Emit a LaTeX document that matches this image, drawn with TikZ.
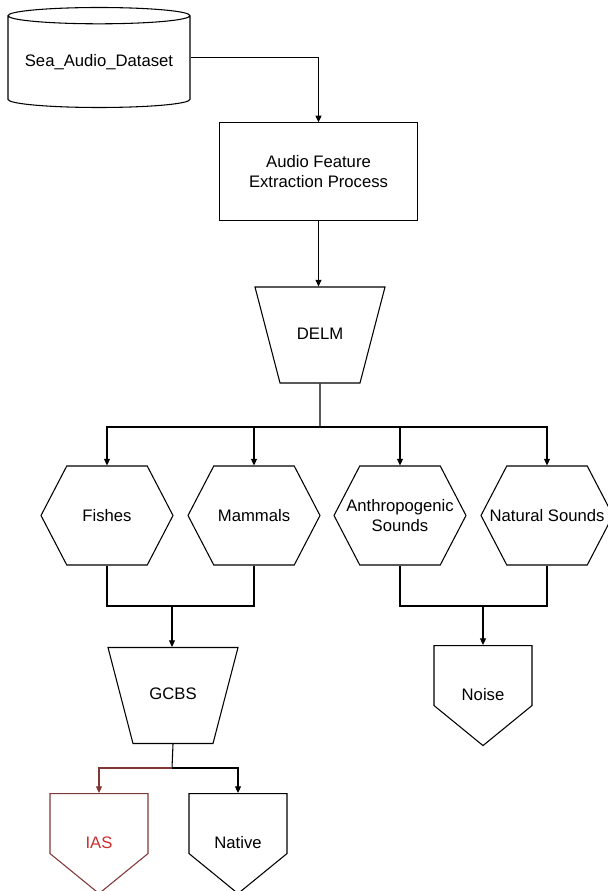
\documentclass[tikz,border=0pt]{standalone}
\usepackage{fontspec}
\setmainfont{Liberation Sans}
\usetikzlibrary{shapes.geometric,shapes.symbols,arrows.meta}
\definecolor{iasline}{RGB}{130,55,55}
\definecolor{iastext}{RGB}{205,45,45}
\newcommand{\hexline}[1]{\makebox[0pt]{#1}}
\tikzset{
  arr/.style={-{Triangle[length=5pt,width=4.5pt]}},
  dbase/.style={cylinder,shape border rotate=90,aspect=0.11,draw,
    minimum width=136.5pt,minimum height=75pt,inner sep=0pt,
    anchor=shape center},
  procbox/.style={rectangle,draw,minimum width=148pt,minimum height=73pt,
    align=center},
  classif/.style={trapezium,shape border rotate=180,
    trapezium left angle=75.4,trapezium right angle=75.4,draw,
    text width=50pt,align=center,text height=8pt,text depth=2pt,
    inner xsep=5pt,inner ysep=31pt},
  hexa/.style={signal,signal to=east and west,signal pointer angle=125,
    draw,minimum width=99pt,minimum height=74.25pt,inner sep=0pt,align=center},
  outbox/.style={signal,signal to=south,signal from=nowhere,
    signal pointer angle=101.5,draw,minimum width=73.5pt,
    minimum height=0pt,anchor=north,inner ysep=0.5pt,
    text height=40.75pt,text depth=3.25pt}
}
\begin{document}
\begin{tikzpicture}[x=0.75pt,y=-0.75pt,line width=0.8pt,
  font=\fontsize{12.5}{15}\selectfont]
\useasboundingbox (0,0) rectangle (607,891);

%Dataset and feature extraction
\node[dbase] (db) at (99,57.5) {Sea\_Audio\_Dataset};
\node[procbox] (afe) at (318.5,171.5) {Audio Feature\\Extraction Process};
\node[classif] (delm) at (320,335) {DELM};

\draw[arr] (db.shape center -| db.east) -| (afe.north);
\draw[arr] (afe.south) -- (afe.south |- delm.north);

%Classes
\coordinate (bus) at (320,427);
\node[hexa] (fish) at (107,515.5) {\hexline{Fishes}};
\node[hexa] (mamm) at (254,515.5) {\hexline{Mammals}};
\node[hexa] (anthro) at (400,515.5) {\hexline{Anthropogenic}\\\hexline{Sounds}};
\node[hexa] (natur) at (547,515.5) {\hexline{Natural Sounds}};

\draw (delm.south) -- (bus);
\draw[arr] (bus) -| (fish.north);
\draw[arr] (bus) -| (mamm.north);
\draw[arr] (bus) -| (anthro.north);
\draw[arr] (bus) -| (natur.north);

%Species and noise
\coordinate (jf) at (172,606);
\coordinate (jn) at (483,606);
\node[classif] (gcbs) at (173,695.5) {GCBS};
\node[outbox] (noise) at (483,645) {Noise};

\draw (fish.south) |- (jf);
\draw (mamm.south) |- (jf);
\draw[arr] (jf) -- (jf |- gcbs.north);
\draw (anthro.south) |- (jn);
\draw (natur.south) |- (jn);
\draw[arr] (jn) -- (noise.north);

%Output
\coordinate (jg) at (172,768);
\node[outbox,draw=iasline,text=iastext] (ias) at (99,793) {IAS};
\node[outbox] (native) at (238,793) {Native};

\draw (gcbs.south) -- (jg);
\draw[arr,iasline] (jg) -| (ias.north);
\draw[arr] (jg) -| (native.north);

\end{tikzpicture}
\end{document}
